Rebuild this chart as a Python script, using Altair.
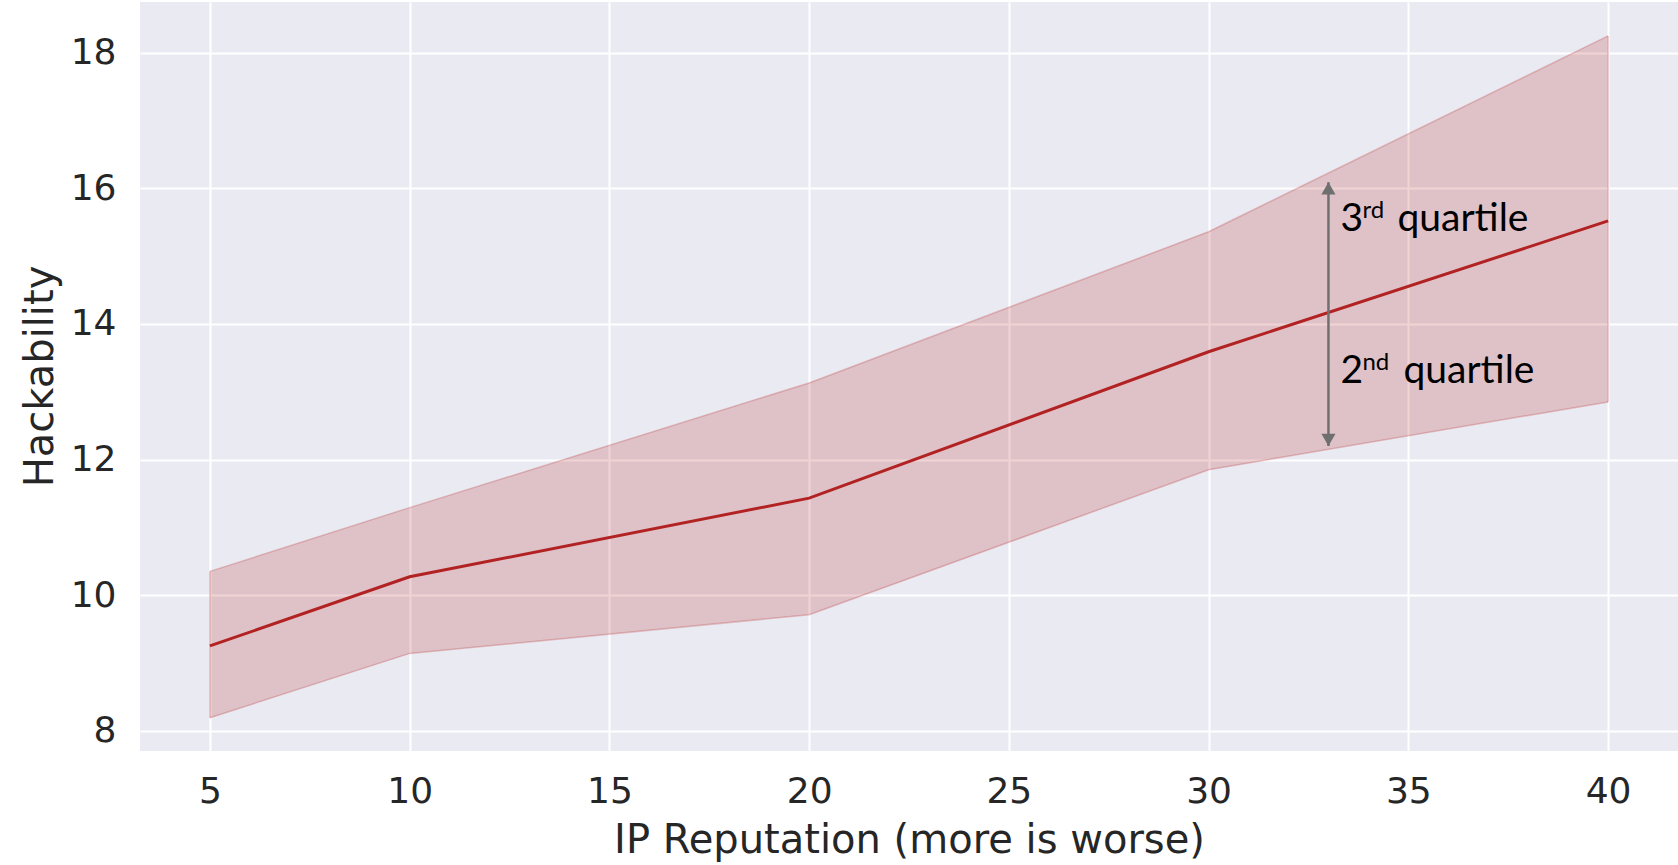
import altair as alt
import pandas as pd

# data
ip_rep = [5, 10, 20, 30, 40]
median = [9.25, 10.27, 11.43, 13.59, 15.52]
upper = [10.35, 11.29, 13.13, 15.36, 18.25]
lower = [8.19, 9.14, 9.71, 11.85, 12.85]

x_ticks = [5, 10, 15, 20, 25, 30, 35, 40]
y_ticks = [8, 10, 12, 14, 16, 18]
x_domain = [3.25, 41.75]
y_domain = [7.70, 18.75]

arrow_x = [33]
arrow_lo = [12.2]
arrow_hi = [16.09]

ann_main = ["3", "2"]
ann_main_y = [15.37, 13.13]
ann_sup = ["rd", "nd"]
ann_sup_y = [15.56, 13.32]
ann_word = ["quartile", "quartile"]
ann_word_dx = [69, 75]

df = pd.DataFrame({"x": ip_rep, "med": median, "hi": upper, "lo": lower})

xs = alt.Scale(domain=x_domain, nice=False, zero=False)
ys = alt.Scale(domain=y_domain, nice=False, zero=False)

LINE = "#b22222"

band = alt.Chart(df).mark_area(color=LINE, opacity=0.2).encode(
    x=alt.X("x:Q", scale=xs, title="IP Reputation (more is worse)",
            axis=alt.Axis(values=x_ticks, grid=True, tickSize=0, domain=False, format="d",
                          labelFontSize=36, labelPadding=23, labelColor="#262626",
                          labelFont="DejaVu Sans",
                          titleFont="DejaVu Sans", titleFontSize=40, titleFontWeight="normal",
                          titleColor="#262626", titleY=89, titleBaseline="middle",
                          gridColor="white", gridWidth=2)),
    y=alt.Y("lo:Q", scale=ys, title="Hackability",
            axis=alt.Axis(values=y_ticks, grid=True, tickSize=0, domain=False, format="d",
                          labelFontSize=36, labelPadding=24, labelColor="#262626",
                          labelFont="DejaVu Sans",
                          titleFont="DejaVu Sans", titleFontSize=40, titleFontWeight="normal",
                          titleColor="#262626", titleX=-100, titleY=374, titleAngle=270,
                          titleAlign="center", titleBaseline="middle",
                          gridColor="white", gridWidth=2)),
    y2="hi:Q",
)

band_hi = alt.Chart(df).mark_line(color=LINE, opacity=0.25, strokeWidth=1.5).encode(
    x=alt.X("x:Q", scale=xs), y=alt.Y("hi:Q", scale=ys))
band_lo = alt.Chart(df).mark_line(color=LINE, opacity=0.25, strokeWidth=1.5).encode(
    x=alt.X("x:Q", scale=xs), y=alt.Y("lo:Q", scale=ys))
band_edges = alt.Chart(df).mark_rule(color=LINE, opacity=0.25, strokeWidth=1.5).encode(
    x=alt.X("x:Q", scale=xs), y=alt.Y("lo:Q", scale=ys), y2="hi:Q"
).transform_filter("datum.x == 5 || datum.x == 40")

line = alt.Chart(df).mark_line(color=LINE, strokeWidth=3).encode(
    x=alt.X("x:Q", scale=xs), y=alt.Y("med:Q", scale=ys))

adf = pd.DataFrame({"x": arrow_x, "lo": arrow_lo, "hi": arrow_hi})
GREY = "#6f6f6f"
arrow_line = alt.Chart(adf).mark_rule(color=GREY, strokeWidth=2.5).encode(
    x=alt.X("x:Q", scale=xs), y=alt.Y("lo:Q", scale=ys), y2="hi:Q")
arrow_top = alt.Chart(adf).mark_point(shape="triangle-up", filled=True, color=GREY,
                                      opacity=1, size=200, yOffset=6).encode(
    x=alt.X("x:Q", scale=xs), y=alt.Y("hi:Q", scale=ys))
arrow_bot = alt.Chart(adf).mark_point(shape="triangle-down", filled=True, color=GREY,
                                      opacity=1, size=200, yOffset=-6).encode(
    x=alt.X("x:Q", scale=xs), y=alt.Y("lo:Q", scale=ys))

tdf = pd.DataFrame({"x": arrow_x * 2, "main": ann_main, "my": ann_main_y,
                    "sup": ann_sup, "sy": ann_sup_y, "word": ann_word, "wdx": ann_word_dx})
t_main = alt.Chart(tdf).mark_text(align="left", baseline="alphabetic", dx=12,
                                  font="Lato", fontSize=39, color="black").encode(
    x=alt.X("x:Q", scale=xs), y=alt.Y("my:Q", scale=ys), text="main:N")
t_sup = alt.Chart(tdf).mark_text(align="left", baseline="alphabetic", dx=34,
                                 font="Lato", fontSize=24, color="black").encode(
    x=alt.X("x:Q", scale=xs), y=alt.Y("sy:Q", scale=ys), text="sup:N")
t_word1 = alt.Chart(tdf).mark_text(align="left", baseline="alphabetic", dx=69,
                                   font="Lato", fontSize=39, color="black").encode(
    x=alt.X("x:Q", scale=xs), y=alt.Y("my:Q", scale=ys), text="word:N"
).transform_filter("datum.main == '3'")
t_word2 = alt.Chart(tdf).mark_text(align="left", baseline="alphabetic", dx=75,
                                   font="Lato", fontSize=39, color="black").encode(
    x=alt.X("x:Q", scale=xs), y=alt.Y("my:Q", scale=ys), text="word:N"
).transform_filter("datum.main == '2'")

chart = alt.layer(band, band_hi, band_lo, band_edges, line, arrow_line, arrow_top,
                  arrow_bot, t_main, t_sup, t_word1, t_word2).properties(
    width=1538, height=749,
    autosize=alt.AutoSizeParams(type="none"),
    padding={"left": 140, "top": 2, "right": 0, "bottom": 114},
    background="white",
).configure_view(fill="#eaeaf2", stroke=None)

chart.save("out.html", embed_options={"renderer": "svg", "actions": False})
